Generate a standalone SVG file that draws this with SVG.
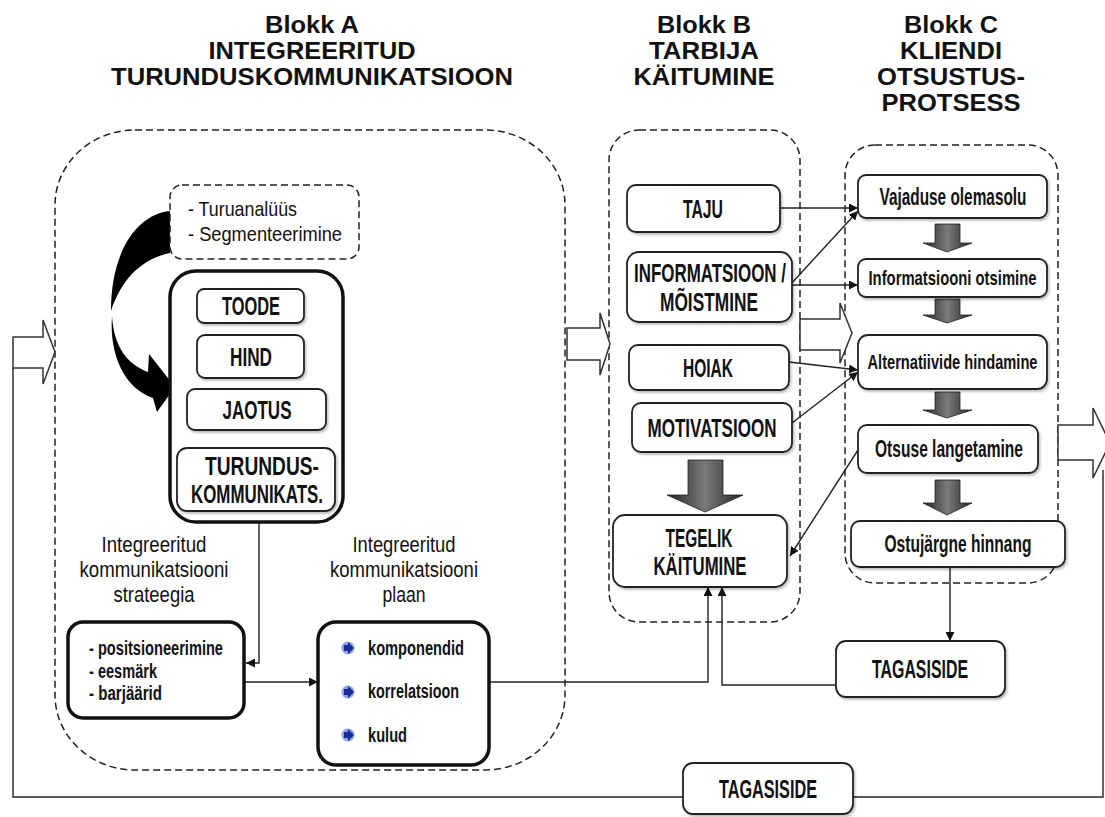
<svg xmlns="http://www.w3.org/2000/svg" width="1105" height="817" viewBox="0 0 1105 817">
<defs>
<style>
.t{font-family:"Liberation Sans",Arial,sans-serif;fill:#111}
.h{font-size:23.2px;font-weight:bold;text-anchor:middle}
.cap{font-size:26px;font-weight:bold;text-anchor:middle}
.lc{font-size:23px;font-weight:bold;text-anchor:middle}
.lc2{font-size:21px;font-weight:bold;text-anchor:middle}
.ttl{font-size:22px;text-anchor:middle}
.li{font-size:20px;font-weight:bold}
.sm{font-size:21px}
.box{fill:#fff;stroke:#222;stroke-width:1.8;filter:url(#sh)}
.bold{fill:#fff;stroke:#111;stroke-width:3.5}
.dash{fill:none;stroke:#222;stroke-width:1.5;stroke-dasharray:7 4}
.ln{fill:none;stroke:#222;stroke-width:1.4}
.wa{fill:#fff;stroke:#333;stroke-width:1.5}
.ga{fill:url(#g);stroke:#222;stroke-width:0.8}
.bul{fill:#8f9fe6}
.bua{fill:#1b2a9c}
</style>
<filter id="sh" x="-10%" y="-10%" width="125%" height="135%"><feDropShadow dx="1.5" dy="2" stdDeviation="1.2" flood-color="#000" flood-opacity="0.25"/></filter>
<marker id="ah" viewBox="0 0 10 10" refX="10" refY="5" markerWidth="9" markerHeight="9" markerUnits="userSpaceOnUse" orient="auto"><path d="M0,0 L10,5 L0,10 z" fill="#111"/></marker>
<linearGradient id="g" x1="0" y1="0" x2="1" y2="0"><stop offset="0" stop-color="#262626"/><stop offset="0.5" stop-color="#7a7a7a"/><stop offset="1" stop-color="#262626"/></linearGradient>
</defs>
<rect width="1105" height="817" fill="#fff"/>

<g id="titles" class="t h">
<text x="312" y="33" textLength="94" lengthAdjust="spacingAndGlyphs">Blokk A</text>
<text x="312" y="59" textLength="207" lengthAdjust="spacingAndGlyphs">INTEGREERITUD</text>
<text x="312" y="85" textLength="402" lengthAdjust="spacingAndGlyphs">TURUNDUSKOMMUNIKATSIOON</text>
<text x="704" y="33" textLength="94" lengthAdjust="spacingAndGlyphs">Blokk B</text>
<text x="704" y="59" textLength="110" lengthAdjust="spacingAndGlyphs">TARBIJA</text>
<text x="704" y="85" textLength="141" lengthAdjust="spacingAndGlyphs">KÄITUMINE</text>
<text x="951" y="33" textLength="94" lengthAdjust="spacingAndGlyphs">Blokk C</text>
<text x="951" y="59" textLength="102" lengthAdjust="spacingAndGlyphs">KLIENDI</text>
<text x="951" y="85" textLength="148" lengthAdjust="spacingAndGlyphs">OTSUSTUS-</text>
<text x="951" y="111" textLength="139" lengthAdjust="spacingAndGlyphs">PROTSESS</text>
</g>

<g id="block-a">
<rect class="dash" x="55" y="130" width="510" height="640" rx="80" ry="75"/>
</g>
<g id="block-b">
<rect class="dash" x="609" y="130" width="191" height="492" rx="30"/>
</g>
<g id="block-c">
<rect class="dash" x="845" y="145" width="213" height="438" rx="30"/>
</g>

<g id="connectors">
<path class="ln" d="M683,797 H13 V368"/>
<path class="ln" d="M1103,470 V797 H853"/>
<path class="ln" d="M259,522 V663 H246" marker-end="url(#ah)"/>
<path class="ln" d="M244,682 H318" marker-end="url(#ah)"/>
<path class="ln" d="M489,682 H708 V587" marker-end="url(#ah)"/>
<path class="ln" d="M836,685 H722 V587" marker-end="url(#ah)"/>
<path class="ln" d="M950,567 V641" marker-end="url(#ah)"/>
<path class="ln" d="M780,208 H858" marker-end="url(#ah)"/>
<path class="ln" d="M790,285 L858,211" marker-end="url(#ah)"/>
<path class="ln" d="M790,285 H858" marker-end="url(#ah)"/>
<path class="ln" d="M789,362 L858,370" marker-end="url(#ah)"/>
<path class="ln" d="M792,423 L858,372" marker-end="url(#ah)"/>
<path class="ln" d="M858,450 L790,556" marker-end="url(#ah)"/>
</g>

<g id="flow-arrows">
<polygon class="wa" points="13,337 43,337 43,320 55,352 43,384 43,368 13,368"/>
<polygon class="wa" points="567,328 600,328 600,313 610,344 600,375 600,360 567,360"/>
<polygon class="wa" points="800,319 840,319 840,303 852,333 840,363 840,350 800,350"/>
<polygon class="wa" points="1058,425 1093,425 1093,408 1110,443 1093,478 1093,460 1058,460"/>
<polygon class="ga" points="688,460 723,460 723,495 743,495 705,512 667,495 688,495"/>
<polygon class="ga" points="935,224 960,224 960,243 972,243 947,252 923,243 935,243"/>
<polygon class="ga" points="935,299 960,299 960,315 972,315 947,323 923,315 935,315"/>
<polygon class="ga" points="935,392 960,392 960,410 972,410 947,418 923,410 935,410"/>
<polygon class="ga" points="935,480 960,480 960,503 972,503 947,515 923,503 935,503"/>
</g>

<g id="loop-arrow" fill="#000">
<path d="M170,211 C138,214 111,250 111,311 C121,280 141,259 170,253 Z"/>
<path d="M112,316 C114,347 127,364 148,372 L149,354 L175,387 L157,412 L153,398 C126,389 109,357 112,316 Z"/>
</g>

<g id="turuanalyys">
<rect x="170" y="185" width="189" height="74" rx="12" fill="#fff" stroke="#222" stroke-width="1.5" stroke-dasharray="7 4"/>
<text class="t sm" x="188" y="216" textLength="109" lengthAdjust="spacingAndGlyphs">- Turuanalüüs</text>
<text class="t sm" x="188" y="241" textLength="154" lengthAdjust="spacingAndGlyphs">- Segmenteerimine</text>
</g>

<g id="marketing-mix">
<rect class="bold" x="170" y="271" width="173" height="251" rx="26"/>
</g>
<g id="toode">
<rect class="box" x="197" y="289" width="107" height="34" rx="7"/>
<text class="t cap" x="251" y="315" textLength="58" lengthAdjust="spacingAndGlyphs">TOODE</text>
</g>
<g id="hind">
<rect class="box" x="197" y="335" width="107" height="43" rx="8"/>
<text class="t cap" x="251" y="366" textLength="42" lengthAdjust="spacingAndGlyphs">HIND</text>
</g>
<g id="jaotus">
<rect class="box" x="187" y="389" width="139" height="41" rx="8"/>
<text class="t cap" x="257" y="419" textLength="69" lengthAdjust="spacingAndGlyphs">JAOTUS</text>
</g>
<g id="turunduskommunikats">
<rect class="box" x="177" y="448" width="158" height="63" rx="10"/>
<text class="t cap" x="262" y="475" textLength="114" lengthAdjust="spacingAndGlyphs">TURUNDUS-</text>
<text class="t cap" x="257" y="503" textLength="132" lengthAdjust="spacingAndGlyphs">KOMMUNIKATS.</text>
</g>

<g id="strategy-title" class="t ttl">
<text x="154" y="552" textLength="105" lengthAdjust="spacingAndGlyphs">Integreeritud</text>
<text x="154" y="577" textLength="149" lengthAdjust="spacingAndGlyphs">kommunikatsiooni</text>
<text x="154" y="602" textLength="81" lengthAdjust="spacingAndGlyphs">strateegia</text>
</g>
<g id="strategy">
<rect class="bold" x="68" y="622" width="176" height="96" rx="15"/>
<text class="t li" x="89" y="655" textLength="134" lengthAdjust="spacingAndGlyphs">- positsioneerimine</text>
<text class="t li" x="89" y="678" textLength="68" lengthAdjust="spacingAndGlyphs">- eesmärk</text>
<text class="t li" x="89" y="700" textLength="73" lengthAdjust="spacingAndGlyphs">- barjäärid</text>
</g>

<g id="plan-title" class="t ttl">
<text x="404" y="552" textLength="103" lengthAdjust="spacingAndGlyphs">Integreeritud</text>
<text x="404" y="577" textLength="148" lengthAdjust="spacingAndGlyphs">kommunikatsiooni</text>
<text x="404" y="602" textLength="43" lengthAdjust="spacingAndGlyphs">plaan</text>
</g>
<g id="plan">
<rect class="bold" x="318" y="622" width="171" height="143" rx="18"/>
<circle class="bul" cx="348" cy="648" r="6.5"/><path class="bua" d="M344,645 H348 V642 L354,648 L348,654 V651 H344 Z"/>
<circle class="bul" cx="348" cy="692" r="6.5"/><path class="bua" d="M344,689 H348 V686 L354,692 L348,698 V695 H344 Z"/>
<circle class="bul" cx="348" cy="735" r="6.5"/><path class="bua" d="M344,732 H348 V729 L354,735 L348,741 V738 H344 Z"/>
<text class="t li" x="368" y="655" textLength="96" lengthAdjust="spacingAndGlyphs">komponendid</text>
<text class="t li" x="368" y="698" textLength="91" lengthAdjust="spacingAndGlyphs">korrelatsioon</text>
<text class="t li" x="368" y="742" textLength="39" lengthAdjust="spacingAndGlyphs">kulud</text>
</g>

<g id="taju">
<rect class="box" x="627" y="185" width="153" height="47" rx="9"/>
<text class="t cap" x="703" y="218" textLength="40" lengthAdjust="spacingAndGlyphs">TAJU</text>
</g>
<g id="informatsioon">
<rect class="box" x="627" y="252" width="165" height="70" rx="12"/>
<text class="t cap" x="710" y="282" textLength="152" lengthAdjust="spacingAndGlyphs">INFORMATSIOON /</text>
<text class="t cap" x="709" y="311" textLength="98" lengthAdjust="spacingAndGlyphs">MÕISTMINE</text>
</g>
<g id="hoiak">
<rect class="box" x="629" y="345" width="160" height="45" rx="9"/>
<text class="t cap" x="708" y="377" textLength="50" lengthAdjust="spacingAndGlyphs">HOIAK</text>
</g>
<g id="motivatsioon">
<rect class="box" x="632" y="403" width="160" height="49" rx="9"/>
<text class="t cap" x="712" y="437" textLength="129" lengthAdjust="spacingAndGlyphs">MOTIVATSIOON</text>
</g>
<g id="tegelik">
<rect class="box" x="613" y="515" width="174" height="72" rx="12"/>
<text class="t cap" x="699" y="547" textLength="67" lengthAdjust="spacingAndGlyphs">TEGELIK</text>
<text class="t cap" x="700" y="575" textLength="93" lengthAdjust="spacingAndGlyphs">KÄITUMINE</text>
</g>

<g id="vajadus">
<rect class="box" x="858" y="175" width="189" height="43" rx="8"/>
<text class="t lc" x="953" y="205" textLength="147" lengthAdjust="spacingAndGlyphs">Vajaduse olemasolu</text>
</g>
<g id="info-otsimine">
<rect class="box" x="858" y="259" width="189" height="38" rx="8"/>
<text class="t lc2" x="952.5" y="285" textLength="168" lengthAdjust="spacingAndGlyphs">Informatsiooni otsimine</text>
</g>
<g id="alternatiivid">
<rect class="box" x="858" y="335" width="189" height="54" rx="10"/>
<text class="t lc2" x="952.5" y="369" textLength="170" lengthAdjust="spacingAndGlyphs">Alternatiivide hindamine</text>
</g>
<g id="otsus">
<rect class="box" x="858" y="425" width="180" height="48" rx="9"/>
<text class="t lc" x="949" y="457" textLength="148" lengthAdjust="spacingAndGlyphs">Otsuse langetamine</text>
</g>
<g id="ostujargne">
<rect class="box" x="851" y="521" width="214" height="46" rx="9"/>
<text class="t lc" x="958" y="552" textLength="147" lengthAdjust="spacingAndGlyphs">Ostujärgne hinnang</text>
</g>

<g id="tagasiside-1">
<rect class="box" x="836" y="641" width="169" height="56" rx="10"/>
<text class="t cap" x="920" y="678" textLength="96" lengthAdjust="spacingAndGlyphs">TAGASISIDE</text>
</g>
<g id="tagasiside-2">
<rect class="box" x="683" y="763" width="170" height="51" rx="10"/>
<text class="t cap" x="768" y="798" textLength="98" lengthAdjust="spacingAndGlyphs">TAGASISIDE</text>
</g>
</svg>
